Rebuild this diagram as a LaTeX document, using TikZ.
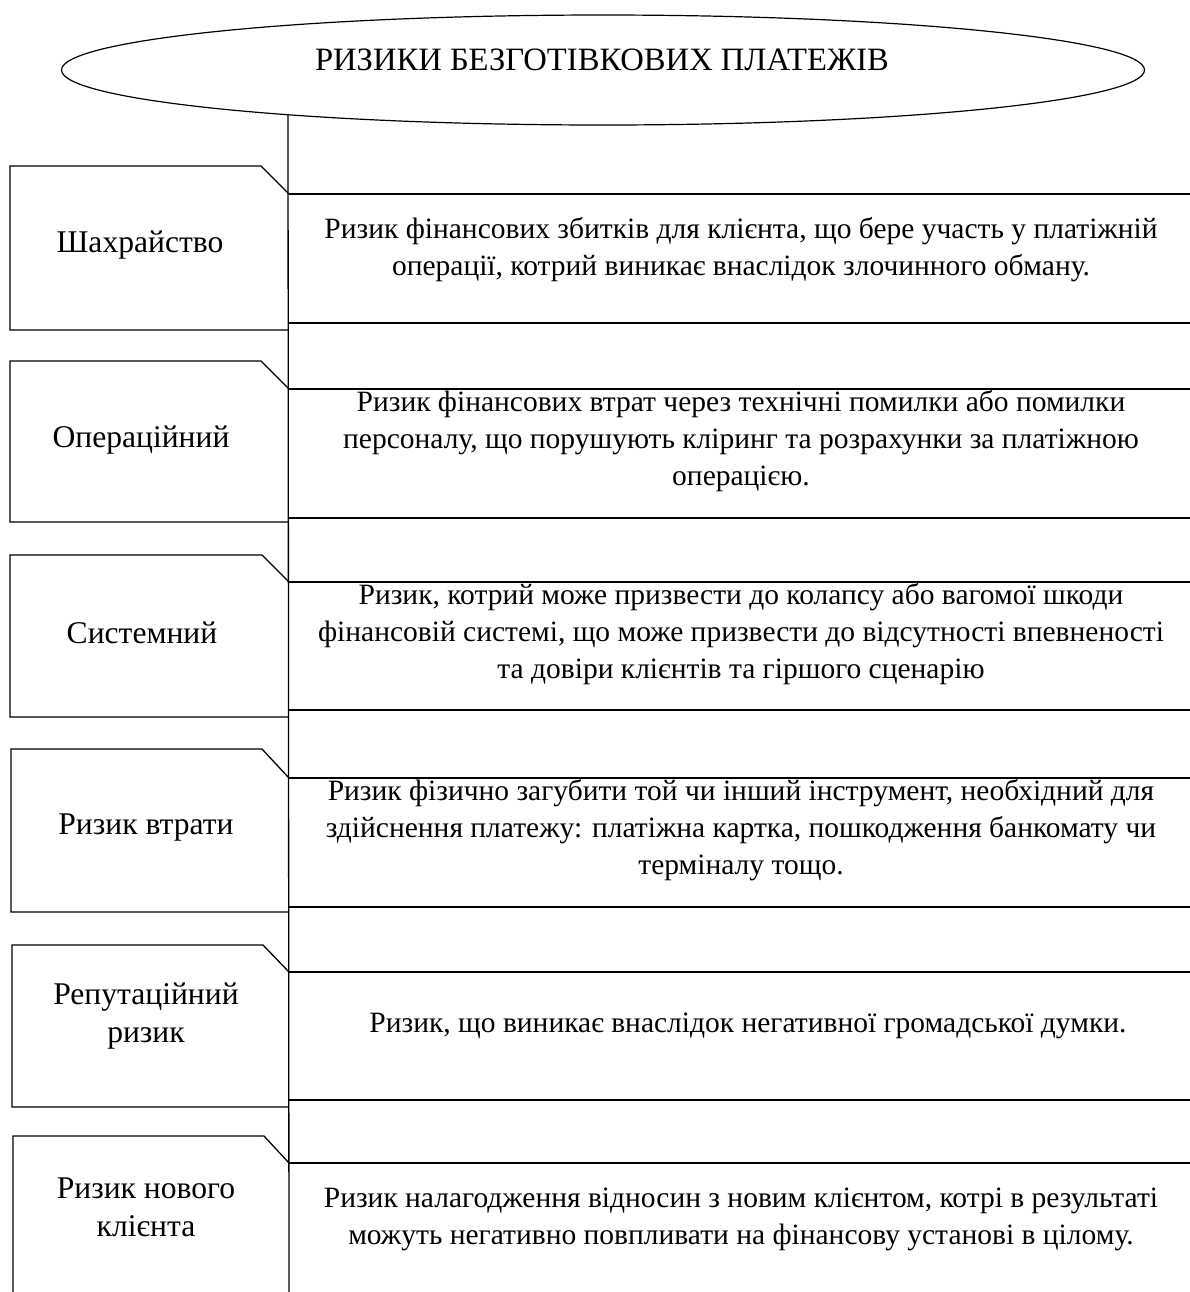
\documentclass[tikz,border=0pt]{standalone}
\usepackage{fontspec}
\setmainfont{Liberation Serif}
\usetikzlibrary{shapes.geometric}
\usetikzlibrary{positioning}

\tikzset{
  riskname/.style={align=center,inner sep=0pt,font=\fontsize{15.8}{19}\selectfont},
  riskdesc/.style={align=center,inner sep=0pt,font=\fontsize{14.75}{18.5}\selectfont},
  boxline/.style={line width=0.65pt,color=black},
}

\begin{document}
\begin{tikzpicture}[x=0.5pt,y=-0.5pt]
\useasboundingbox (0,0) rectangle (1190,1292);
\path (603,70) node(title) [draw,ellipse,line width=0.6pt,minimum width=541.5pt,minimum height=55pt,inner sep=0pt] {};
\path (602,60) node(titletext) [riskname,font=\fontsize{16.3}{19}\selectfont] {РИЗИКИ БЕЗГОТІВКОВИХ ПЛАТЕЖІВ};
\coordinate (spinetop) at (288,115);
\coordinate (spinebot) at (289,1292);
\draw[boxline] (spinetop) -- (spinebot);
% left boxes with cut corner
\draw[boxline] (289,194) -- (261,166) -- (10,166) -- (10,330) -- (289,330);
\draw[boxline] (289,389) -- (261,361) -- (10,361) -- (10,522) -- (289,522);
\draw[boxline] (289,582) -- (262,555) -- (10,555) -- (10,717) -- (289,717);
\draw[boxline] (289,778) -- (262,749) -- (11,749) -- (11,912) -- (289,912);
\draw[boxline] (289,972) -- (263,945) -- (12,945) -- (12,1107) -- (289,1107);
\draw[boxline] (289,1163) -- (264,1136) -- (13,1136) -- (13,1292);
% right boxes
\draw[boxline] (289,194) -- (1190,194);
\draw[boxline] (289,323) -- (1190,323);
\draw[boxline] (289,389) -- (1190,389);
\draw[boxline] (289,518) -- (1190,518);
\draw[boxline] (289,582) -- (1190,582);
\draw[boxline] (289,710) -- (1190,710);
\draw[boxline] (289,778) -- (1190,778);
\draw[boxline] (289,907) -- (1190,907);
\draw[boxline] (289,972) -- (1190,972);
\draw[boxline] (289,1100) -- (1190,1100);
\draw[boxline] (289,1163) -- (1190,1163);
% names
\path (140,245) node(fraud) [riskname] {Шахрайство};
\path (141,440) node(oper) [riskname] {Операційний};
\path (142,633) node(system) [riskname] {Системний};
\path (146,828) node(loss) [riskname] {Ризик втрати};
\path (146,1016) node(reput) [riskname] {Репутаційний\\ризик};
\path (146,1207) node(newclient) [riskname] {Ризик нового\\клієнта};
% descriptions
\path (741,250) node(fraud_d) [riskdesc] {Ризик фінансових збитків для клієнта, що бере участь у платіжній\\операції, котрий виникає внаслідок злочинного обману.};
\path (741,441) node(oper_d) [riskdesc] {Ризик фінансових втрат через технічні помилки або помилки\\персоналу, що порушують кліринг та розрахунки за платіжною\\операцією.};
\path (741,634) node(system_d) [riskdesc] {Ризик, котрий може призвести до колапсу або вагомої шкоди\\фінансовій системі, що може призвести до відсутності впевненості\\та довіри клієнтів та гіршого сценарію};
\path (741,830) node(loss_d) [riskdesc] {Ризик фізично загубити той чи інший інструмент, необхідний для\\здійснення платежу: платіжна картка, пошкодження банкомату чи\\терміналу тощо.};
\path (748,1026) node(reput_d) [riskdesc] {Ризик, що виникає внаслідок негативної громадської думки.};
\path (741,1219) node(newclient_d) [riskdesc] {Ризик налагодження відносин з новим клієнтом, котрі в результаті\\можуть негативно повпливати на фінансову установі в цілому.};
\end{tikzpicture}
\end{document}
